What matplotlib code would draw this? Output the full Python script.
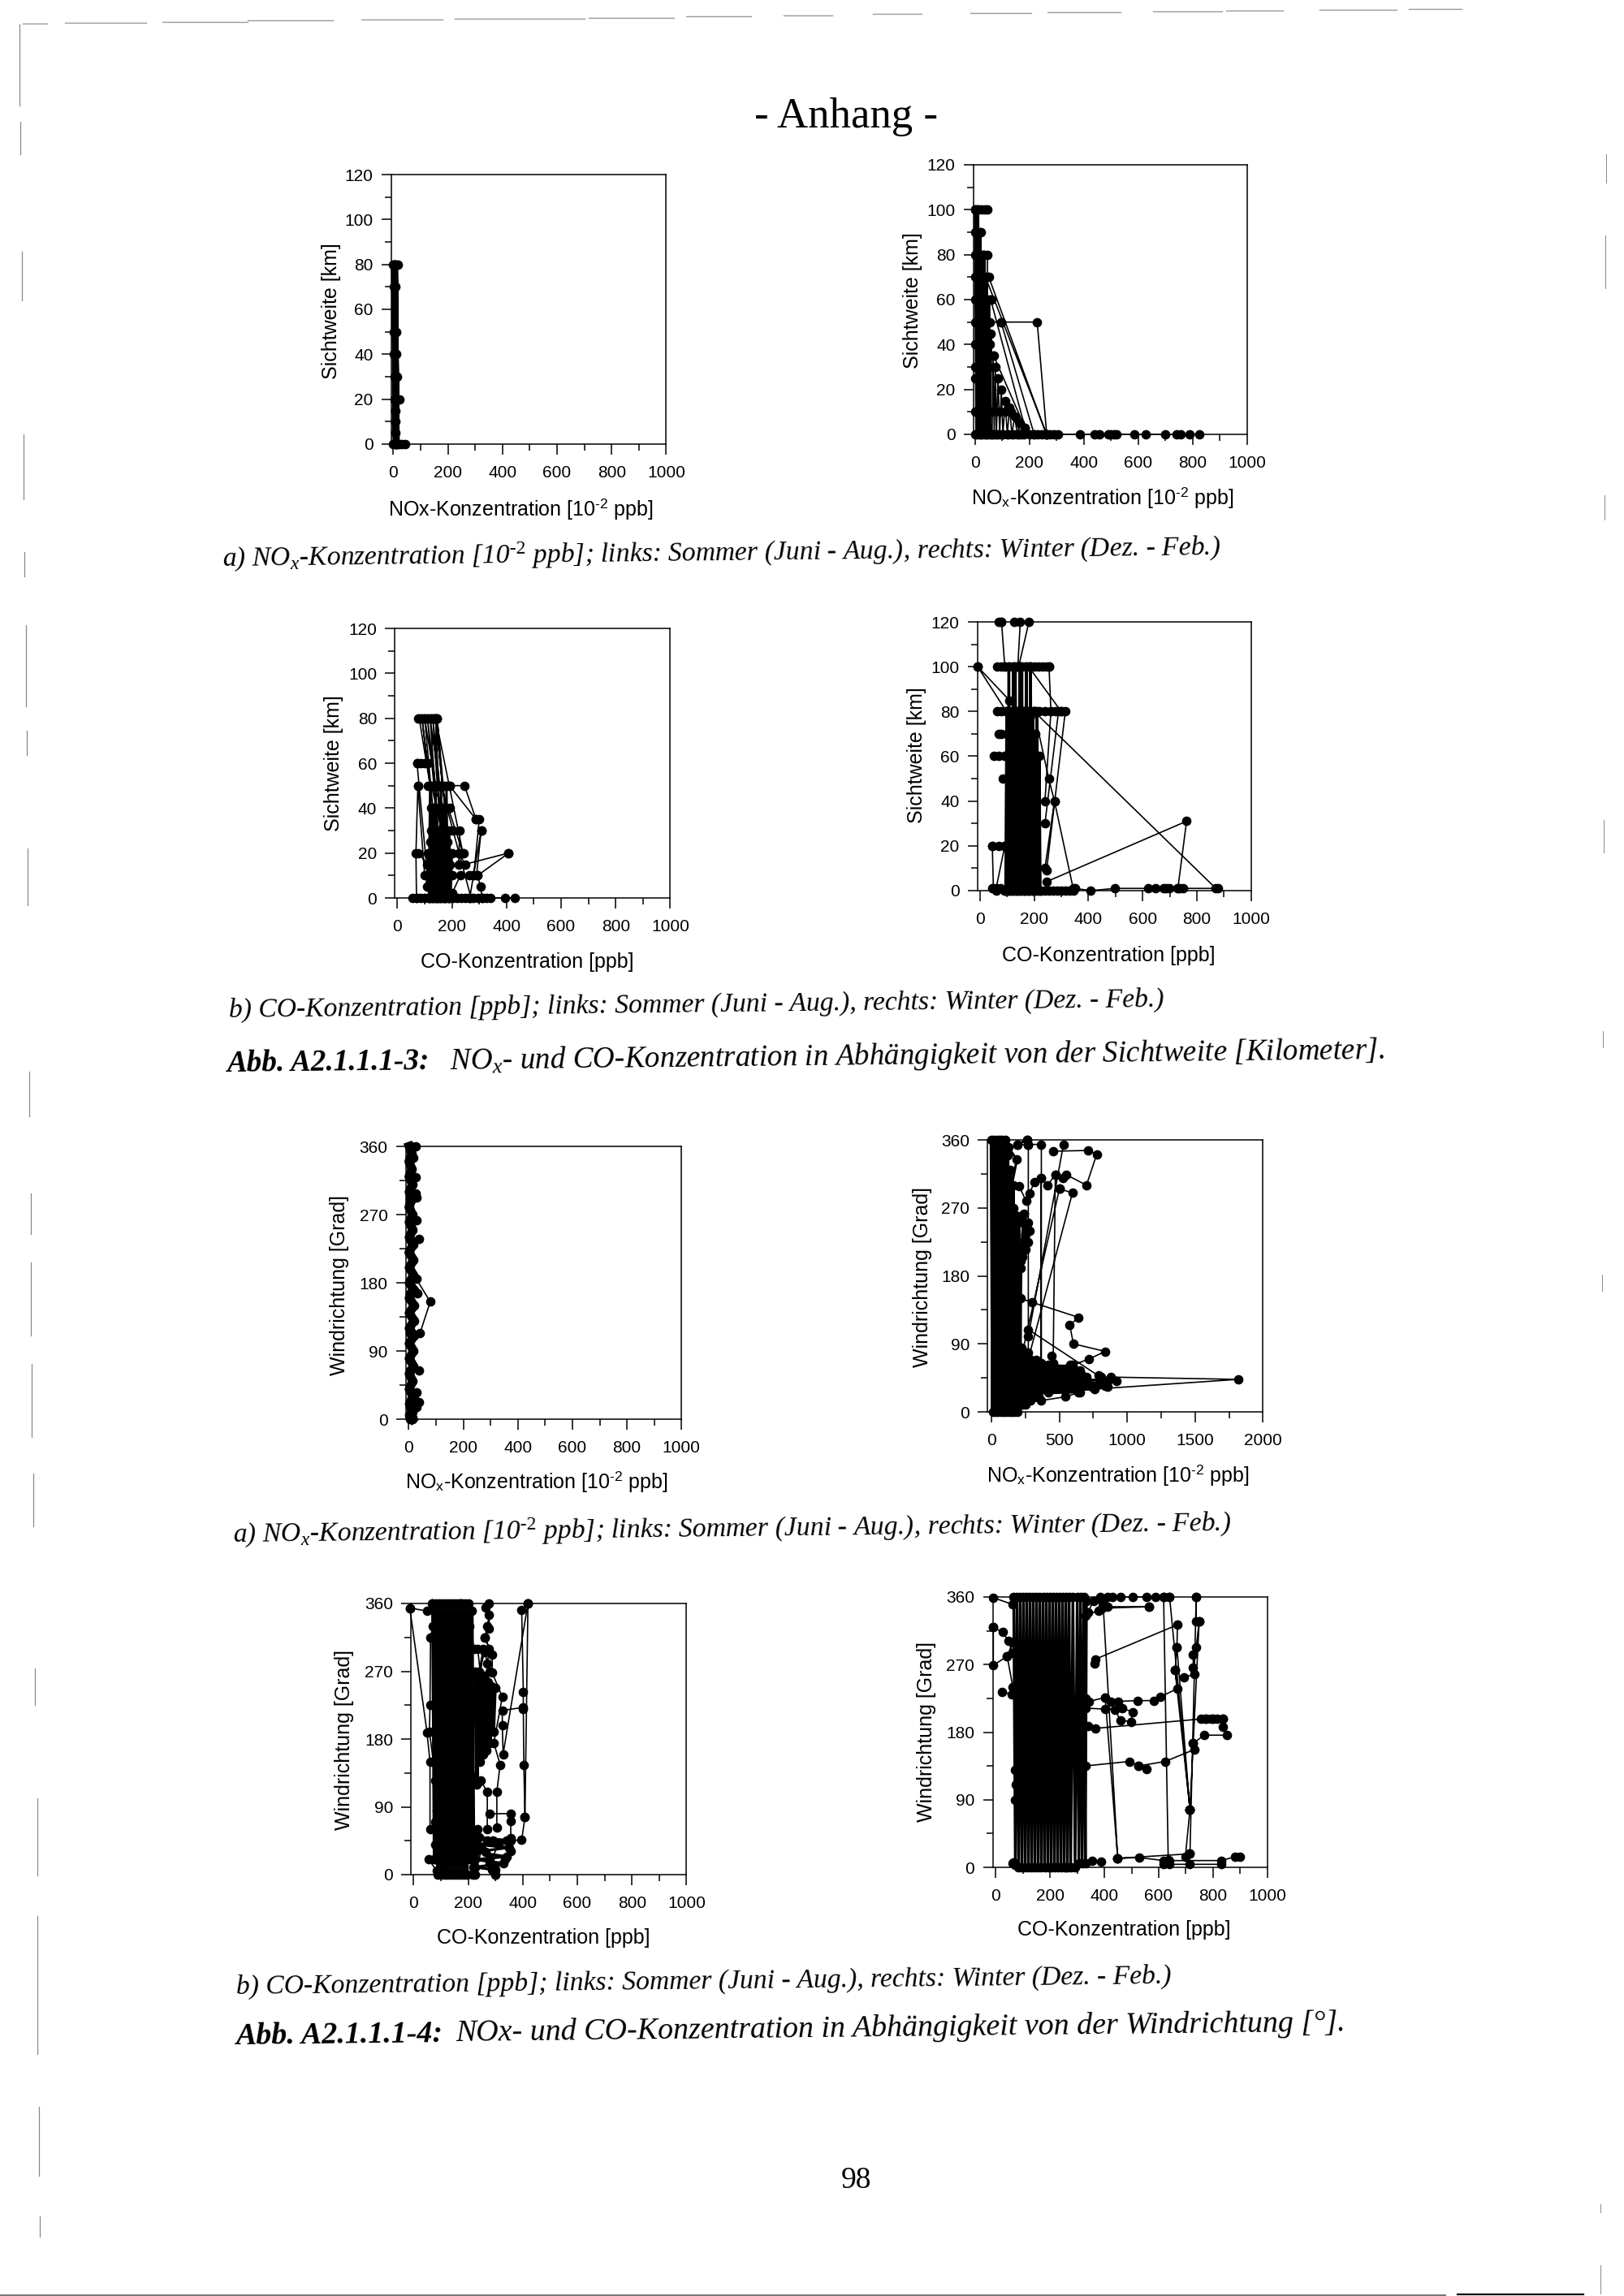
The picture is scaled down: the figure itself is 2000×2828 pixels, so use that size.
"""Scanned appendix page: NOx and CO concentration against visibility and wind direction."""
import matplotlib
matplotlib.use("Agg")
import matplotlib.pyplot as plt

W, H = 2000, 2828
nan = float("nan")

plt.rcParams["font.family"] = ["Liberation Sans", "DejaVu Sans"]
plt.rcParams["mathtext.fontset"] = "custom"
plt.rcParams["mathtext.it"] = "Liberation Serif:italic"
plt.rcParams["mathtext.rm"] = "Liberation Serif"
plt.rcParams["mathtext.bf"] = "Liberation Serif:italic:bold"
plt.rcParams["mathtext.sf"] = "Liberation Sans"
plt.rcParams["mathtext.default"] = "it"

VIS_TICKS = [0, 20, 40, 60, 80, 100, 120]
VIS_MINOR = [10, 30, 50, 70, 90, 110]
DIR_TICKS = [0, 90, 180, 270, 360]
DIR_MINOR = [45, 135, 225, 315]
CONC_TICKS = [0, 200, 400, 600, 800, 1000]
CONC_MINOR = [100, 300, 500, 700, 900]
WIDE_TICKS = [0, 500, 1000, 1500, 2000]
WIDE_MINOR = [250, 750, 1250, 1750]

# a) NOx / visibility, summer
p1_core_x = [3, 10, 5, 12, 4, 11, 6, 9]
p1_core_y = [80, 0, 80, 0, 80, 0, 80, 0]
p1_x = [0, 10, 18, nan, 3, 8, nan, 2, 12, nan, 3, 12, nan, 5, 14, nan, 5, 22, nan, 9, nan, 9, nan, 9, nan, 0, 8, 16, 24, 32, 42]
p1_y = [80, 80, 80, nan, 70, 70, nan, 50, 50, nan, 40, 40, nan, 30, 30, nan, 20, 20, nan, 15, nan, 10, nan, 5, nan, 0, 0, 0, 0, 0, 0]

# a) NOx / visibility, winter
p2_core_x = [0, 5, 10, 14, 18, 22, 26, 30, 34, 38, 42, 46, 50, 54, 58]
p2_core_y = [100, 0, 100, 0, 90, 0, 80, 0, 80, 0, 70, 0, 60, 0, 45]
p2_hatch_x = [62, 66, 70, 74, 78, 84, 90, 96, 102, 110, 118, 126, 135, 145, 155, 165]
p2_hatch_y = [0, 35, 0, 30, 0, 25, 0, 20, 0, 15, 0, 12, 0, 8, 0, 5]
p2_x = [0, 12, 24, 36, 45, nan, 0, 10, 20, nan, 0, 15, 30, 45, 45, nan, 0, 15, 30, 50, 262, nan, 0, 20, 40, 60, nan, 12, 263, nan,
        57, 183, nan, 68, 183, nan, 0, 20, 40, 55, 95, 228, 263, nan, 95, 217, nan, 0, 30, 60, 90, 110, 130, 170, nan,
        0, 20, 40, 55, nan, 0, 30, 50, nan, 0, 25, nan,
        0, 20, 40, 60, 80, 100, 120, 140, 160, 180, 200, 215, 230, 245, 260, 275, 290, 305, 385, 440, 458, 490, 500, 510, 520,
        585, 628, 700, 740, 755, 790, 825]
p2_y = [100, 100, 100, 100, 100, nan, 90, 90, 90, nan, 80, 80, 80, 80, 70, nan, 70, 70, 70, 70, 0, nan, 60, 60, 60, 60, nan, 78, 0, nan,
        60, 3, nan, 35, 3, nan, 50, 50, 50, 50, 50, 50, 0, nan, 50, 0, nan, 10, 10, 10, 10, 10, 10, 0, nan,
        40, 40, 40, 40, nan, 30, 30, 30, nan, 25, 25, nan,
        0, 0, 0, 0, 0, 0, 0, 0, 0, 0, 0, 0, 0, 0, 0, 0, 0, 0, 0, 0, 0, 0, 0, 0, 0,
        0, 0, 0, 0, 0, 0, 0]

# b) CO / visibility, summer
p3_core_x = [115, 120, 125, 130, 135, 140, 145, 150, 155, 160, 165, 170, 175, 180, 185, 190, 195, 200]
p3_core_y = [0, 50, 0, 40, 0, 50, 0, 30, 0, 50, 0, 40, 0, 50, 0, 30, 0, 20]
p3_low_x = [108, 113, 118, 123, 128, 133, 138, 143, 148, 153, 158, 163, 168, 173, 178, 183, 188, 193]
p3_low_y = [5, 20, 0, 25, 0, 22, 0, 25, 0, 22, 0, 25, 0, 22, 0, 25, 0, 15]
p3_hatch_x = [80, 120, 90, 130, 100, 140, 110, 150, 120, 155, 130, 160, 140, 165, 146, 175, 125, 200, 140, 240, 160, 270]
p3_hatch_y = [80, 50, 80, 40, 80, 50, 80, 30, 80, 50, 80, 25, 80, 50, 80, 40, 50, 10, 80, 20, 50, 0]
p3_x = [77, 88, 100, 112, 124, 136, 146, 140, nan, 72, 85, 100, 112, nan, 72, 110, nan, 75, 68, 70, nan, 75, 100, nan, 77, 110, nan,
        112, 130, 150, 170, 191, 246, 288, 300, 280, nan, 191, 288, nan, 228, 225, nan, 307, 265, nan, 307, 290, nan,
        408, 248, 225, 243, nan, 408, 294, 305, 310, nan, 231, 200, nan, 265, 280, 294, nan,
        123, 140, 160, 191, nan, 123, 145, 170, 203, nan, 120, nan, 125, 150, 175, 195, nan,
        55, 70, 85, 100, 115, 130, 145, 160, 175, 190, 205, 220, 235, 250, 265, 280, 295, 310, 325, 340, 396, 430]
p3_y = [80, 80, 80, 80, 80, 80, 80, 70, nan, 60, 60, 60, 60, nan, 60, 10, nan, 50, 20, 0, nan, 50, 10, nan, 20, 15, nan,
        50, 50, 50, 50, 50, 50, 35, 35, 10, nan, 50, 35, nan, 30, 15, nan, 30, 0, nan, 30, 10, nan,
        20, 15, 20, 20, nan, 20, 10, 5, 0, nan, 10, 2, nan, 10, 10, 10, nan,
        40, 40, 40, 40, nan, 30, 30, 30, 30, nan, 25, nan, 20, 20, 20, 20, nan,
        0, 0, 0, 0, 0, 0, 0, 0, 0, 0, 0, 0, 0, 0, 0, 0, 0, 0, 0, 0, 0, 0]

# b) CO / visibility, winter
p4_core_x = [95, 99, 103, 107, 111, 115, 119, 123, 127, 131, 135, 139, 143, 147, 151, 155, 159, 163, 167, 171, 175, 179, 183, 187,
             191, 195, 199, 203, 207, 211, 215, 219, 223]
p4_core_y = [0, 80, 0, 100, 0, 80, 0, 100, 0, 100, 0, 80, 0, 100, 0, 100, 0, 80, 0, 100, 0, 80, 0, 100, 0, 80, 0, 70, 0, 80, 0, 60, 0]
p4_x = [69, 80, nan, 128, 149, 140, nan, 181, 143, nan, 80, 92, nan, -8, 109, nan, -8, 98, nan,
        65, 80, 95, 110, 125, 140, 155, 170, 185, 200, 215, 230, 245, 255, nan, 255, 262, 240, nan,
        63, 80, 100, 120, 140, 160, 180, 200, 220, 240, 260, 280, 300, 315, 246, nan, 290, 240, nan, 200, 870, nan,
        180, 300, nan, 69, 80, 100, nan, 52, 69, 90, nan, 84, 100, nan, 200, 254, 275, 344, nan, 275, 240, nan,
        46, 69, 92, nan, 46, 50, nan, 92, 60, nan, 246, 762, 730, nan,
        45, 60, 75, 90, 105, 120, 135, 150, 165, 180, 195, 210, 225, 240, 255, 270, 285, 300, 315, 330, 345, 350, 409, 498, 619, 647,
        676, 687, 699, 727, 738, 750, 879]
p4_y = [120, 120, nan, 120, 120, 100, nan, 120, 100, nan, 120, 100, nan, 100, 85, nan, 100, 80, nan,
        100, 100, 100, 100, 100, 100, 100, 100, 100, 100, 100, 100, 100, 100, nan, 100, 80, 40, nan,
        80, 80, 80, 80, 80, 80, 80, 80, 80, 80, 80, 80, 80, 80, 9, nan, 80, 30, nan, 80, 1, nan,
        100, 80, nan, 70, 70, 70, nan, 60, 60, 60, nan, 50, 50, nan, 80, 50, 40, 1, nan, 40, 10, nan,
        20, 20, 20, nan, 20, 1, nan, 20, 1, nan, 4, 31, 1, nan,
        1, 0, 1, 0, 0, 0, 0, 0, 0, 0, 0, 1, 0, 0, 0, 0, 0, 0, 0, 0, 0, 1, 0, 1, 1, 1,
        1, 1, 1, 1, 1, 1, 1]

# a) NOx / wind direction, summer
p5_core_x = [2, 12, 1, 12, 1, 14, 2, 12, 1, 14, 2, 15, 2, 16, 1, 18, 2, 18, 2, 20, 2, 20, 2, 20, 2, 20, 2, 18, 2, 18, 2, 15, 2, 15, 3, 14, 3, 14]
p5_core_y = [360, 350, 340, 330, 320, 310, 300, 290, 280, 270, 260, 250, 240, 230, 220, 210, 200, 190, 180, 170, 160, 150, 140, 130, 120,
             110, 100, 90, 80, 70, 60, 50, 40, 30, 20, 10, 5, 0]
p5_x = [25, 12, nan, 16, 5, nan, 25, 5, nan, 25, 30, 5, nan, 30, 5, nan, 39, 5, nan, 33, 5, nan, 28, 79, 42, 5, nan, 39, 5, nan, 30, 39, 30, 5, nan, 5, 15]
p5_y = [360, 360, nan, 345, 345, nan, 319, 319, nan, 298, 293, 290, nan, 263, 263, nan, 238, 238, nan, 166, 166, nan, 185, 155, 114, 114, nan, 64, 64, nan, 35, 23, 16, 16, nan, 0, 2]

# a) NOx / wind direction, winter
p6_core_x = [0, 10, 20, 30, 40, 50, 60, 70, 80, 90, 100, 110, 120, 130, 140, 150, 160, 170, 180, 190, 200, 210, 215]
p6_core_y = [360, 0, 360, 0, 360, 0, 360, 0, 360, 0, 360, 0, 340, 0, 320, 0, 300, 0, 260, 0, 250, 10, 200]
p6_low_x = [220, 230, 240, 250, 260, 270, 280, 290, 300, 310, 320, 330, 340, 350, 360]
p6_low_y = [85, 10, 80, 10, 75, 15, 70, 15, 65, 20, 60, 20, 58, 20, 55]
p6_blob_x = [200, 640, 210, 760, 220, 840, 230, 800, 240, 860, 250, 700, 260, 660, 280, 620, 320, 560, 360, 600, 420]
p6_blob_y = [24, 26, 28, 30, 32, 34, 36, 38, 40, 42, 44, 46, 48, 50, 52, 54, 56, 58, 60, 60, 62]
p6_bump_x = [160, 200, 230, 260, 284, 270, 250, 230, 215, 210, 240, 215, 270, 220, 250, 218, nan, 192, 261, 272, nan, 124, 188, 150]
p6_bump_y = [270, 258, 260, 245, 240, 225, 215, 205, 190, 150, 262, 205, 250, 215, 235, 220, nan, 354, 360, 354, nan, 350, 334, 300]
p6_x = [192, 272, 368, 368, nan, 261, 272, 272, nan, 531, 272, nan, 455, 712, 776, 700, 551, 524, 471, 455, nan, 471, 414, 364, 364, nan,
        364, 318, 279, 256, 204, nan, 501, 597, 272, nan, 501, 230, nan, 215, 300, 643, 577, 604, 840, 719, 600, nan,
        444, 444, nan, 272, 787, nan, 879, 1817, 421, nan, 920, 810, 741, 650, 547, 368, 250, nan, 593, 650, 581, 389, 330, nan, 856, 741]
p6_y = [354, 354, 354, 64, nan, 360, 354, 78, nan, 354, 100, nan, 345, 346, 341, 300, 314, 310, 314, 64, nan, 314, 300, 310, 64, nan,
        310, 304, 289, 279, 299, nan, 295, 290, 70, nan, 295, 80, nan, 150, 145, 125, 115, 90, 80, 70, 62, nan,
        74, 50, nan, 109, 48, nan, 46, 43, 26, nan, 41, 46, 33, 26, 20, 15, 12, nan, 57, 55, 62, 60, 69, nan, 33, 33]

# b) CO / wind direction, summer
p7_core_x = [70, 76, 82, 88, 94, 100, 106, 112, 118, 124, 130, 136, 142, 148, 154, 160, 166, 172, 178, 184, 190, 196, 202, 208, 214, 220]
p7_core_y = [360, 20, 360, 0, 360, 0, 360, 0, 360, 0, 360, 0, 360, 0, 360, 0, 360, 0, 360, 0, 360, 0, 360, 20, 350, 40]
p7_side_x = [226, 232, 238, 244, 250, 256, 262, 268, 274, 280, 286, 292, 298]
p7_side_y = [270, 120, 265, 150, 265, 160, 260, 165, 255, 175, 250, 190, 248]
p7_low_x = [225, 356, 230, 350, 225, 340, 225, 330, 225, 300]
p7_low_y = [50, 45, 40, 36, 30, 24, 20, 15, 10, 6]
p7_x = [-14, 49, 60, 60, nan, -14, 48, nan, 55, 85, nan, 66, 70, 62, 60, 58, 72, 80, 85, 78, 80, 75, nan,
        419, 396, 402, 402, 404, 408, 396, 340, nan, 419, 408, nan, 419, 328, 325, 325, 402, nan, 277, 277, 260, 288, 288, 325, 294, 317, 305, 305, nan,
        356, 280, nan, 356, 356, 356, 334, 288, 300, nan, 265, 277, 270, 262, 277, 270, nan, 237, 245, 270, 270, nan, 170, 204, 222, nan,
        270, 290, 310, 280, nan, 265, 280, 295, 300, nan, 215, 225, 205, 225, 205, 225, 215, 235, 220, 240, 225, 250, nan, 235, 245, 255, 240, 260, 280]
p7_y = [354, 189, 150, 60, nan, 354, 350, nan, 20, 5, nan, 360, 330, 315, 225, 190, 150, 125, 85, 70, 40, 20, nan,
        360, 351, 243, 220, 145, 76, 46, 45, nan, 360, 76, nan, 360, 160, 198, 218, 222, nan, 360, 327, 315, 292, 268, 236, 175, 146, 110, 62, nan,
        81, 81, nan, 71, 49, 31, 20, 6, 0, nan, 355, 345, 330, 315, 300, 280, nan, 123, 125, 110, 60, nan, 360, 330, 300, nan,
        45, 45, 40, 15, nan, 30, 20, 12, 0, nan, 130, 40, 120, 30, 100, 50, 0, 60, 10, 50, 0, 35, nan, 300, 265, 300, 270, 295, 270]

# b) CO / wind direction, winter
p8_core_x = [66, 72, 78, 84, 90, 96, 102, 108, 114, 120, 126, 132, 138, 144, 150, 156, 162, 168, 174, 180, 186, 192, 198, 204,
             210, 216, 222, 228, 234, 240, 246, 252, 258, 264, 270, 276, 284, 292, 300, 306, 312, 318, 324, 330, 334]
p8_core_y = [360, 5, 360, 0, 360, 0, 360, 0, 360, 0, 360, 0, 360, 0, 360, 0, 360, 0, 360, 0, 360, 0, 360, 0,
             360, 0, 360, 0, 360, 0, 360, 0, 360, 0, 360, 0, 360, 0, 360, 5, 360, 5, 360, 5, 355]
p8_x = [340, 360, 385, 412, 429, 458, 503, 555, 587, 618, 640, nan, 618, 635, nan, 640, 715, nan, 738, 715, nan, 738, 738, nan,
        563, 412, 378, 330, nan, 563, 390, nan, 395, 449, nan, -9, 63, nan, -9, -9, 42, 63, nan, -9, 25, 46, 63, nan, 42, 63, nan, 23, 60, nan,
        364, 366, 669, 667, 660, 669, 606, 581, 521, 452, 423, 403, 343, 330, nan, 667, 715, nan, 660, 715, nan,
        749, 738, 727, 727, 732, 692, nan, 749, 727, 715, nan,
        403, 464, 504, 498, 458, 440, 330, nan, 340, 366, 770, 800, 835, 835, 852, 767, 727, 732, 624, 526, 492, 330, nan, 526, 555, nan,
        755, 775, 795, 815, 835, nan, 715, 698, 715, 449, nan, 403, 449, 529, 618, 640, 830, 881, 898, nan, 618, 640, 715, 830, nan,
        355, 389, nan, 63, 70, nan, 260, nan, 70, 75, 70, nan, 66, 70]
p8_y = [340, 355, 360, 360, 360, 360, 360, 360, 360, 360, 360, nan, 360, 10, nan, 360, 77, nan, 360, 18, nan, 360, 328, nan,
        347, 347, 342, 335, nan, 347, 345, nan, 352, 12, nan, 359, 350, nan, 320, 269, 281, 300, nan, 320, 313, 302, 285, nan, 281, 240, nan, 234, 230, nan,
        271, 277, 323, 293, 263, 238, 227, 222, 222, 221, 221, 226, 221, 225, nan, 293, 77, nan, 263, 77, nan,
        328, 293, 283, 266, 257, 253, nan, 328, 165, 77, nan,
        211, 212, 207, 194, 196, 210, 212, nan, 188, 185, 198, 198, 198, 187, 176, 176, 165, 157, 141, 135, 141, 135, nan, 135, 131, nan,
        198, 198, 198, 198, 198, nan, 77, 14, 18, 12, nan, 226, 12, 13, 9, 9, 9, 14, 14, nan, 4, 4, 4, 4, nan,
        9, 8, nan, 5, 3, nan, 0, nan, 130, 110, 90, nan, 7, 5]

# page furniture left by the scan (outer page edge)
edge_left_x = [24, 24.5, 26.5, 29, 30, 32, 32.5, 33.5, 36, 37.5, 38, 39, 41, 43, 45.5, 46, 48, 49]
edge_left_top = [30, 150, 310, 535, 680, 770, 900, 1045, 1320, 1470, 1555, 1680, 1815, 2055, 2215, 2360, 2595, 2730]
edge_left_bottom = [130, 190, 370, 615, 710, 870, 930, 1115, 1375, 1520, 1645, 1770, 1880, 2100, 2310, 2530, 2680, 2755]
edge_top_start = [28, 80, 200, 305, 445, 560, 725, 845, 965, 1075, 1195, 1290, 1420, 1510, 1625, 1735]
edge_top_end = [58, 180, 305, 410, 545, 720, 830, 925, 1025, 1135, 1270, 1380, 1505, 1580, 1720, 1800]
edge_top_y = [29, 28, 26.5, 25, 24, 23, 21.5, 20, 18.5, 17, 15.5, 14.5, 13.5, 13, 12, 11]
edge_right_x = [1978, 1977, 1976, 1975, 1974, 1973, 1971, 1971]
edge_right_top = [190, 290, 610, 1010, 1270, 1570, 2715, 2790]
edge_right_bottom = [225, 355, 640, 1050, 1290, 1590, 2725, 2825]

# (x zero, x end, axis left edge, y zero, y end)
PANEL_BOX = [
    (484.4, 820.4, 481.7, 547, 215),
    (1201, 1535.8, 1198.7, 535, 203),
    (489.4, 825.4, 486.3, 1106, 774),
    (1206.7, 1540.8, 1203.7, 1097, 766),
    (503.3, 839.3, 499.8, 1748, 1412),
    (1220.9, 1555.4, 1216.3, 1739, 1404),
    (509.4, 845.4, 506.3, 2309, 1975),
    (1226.3, 1560.8, 1222.5, 2300, 1967),
]
NOX_LABEL = "NO$_{\\mathsf{x}}$-Konzentration [10$^{\\mathsf{\u20102}}$ ppb]"
NOX_PLAIN = "NOx-Konzentration [10$^{\\mathsf{\u20102}}$ ppb]"
CO_LABEL = "CO-Konzentration [ppb]"
VIS_LABEL = "Sichtweite [km]"
DIR_LABEL = "Windrichtung [Grad]"
# x label position, y label position
LABEL_POS = [
    ((641, 627), (408, 383)), ((1358, 613), (1124, 370)),
    ((649, 1185), (411, 940)), ((1365, 1177), (1129, 930)),
    ((661, 1825), (418, 1583)), ((1377, 1817), (1136, 1573)),
    ((669, 2387), (424, 2143)), ((1384, 2377), (1141, 2133)),
]

fig = plt.figure(figsize=(W / 100, H / 100), dpi=100, facecolor="white")
page = fig.add_axes([0, 0, 1, 1], zorder=0)
page.set_xlim(0, W)
page.set_ylim(H, 0)
page.axis("off")


def draw_panel(i, series, xmax, xticks, xminor, yticks, yminor, xlabel, ylabel):
    x0, x1, xl, y0, yt = PANEL_BOX[i]
    ax = fig.add_axes([xl / W, 1 - y0 / H, (x1 - xl) / W, (y0 - yt) / H], zorder=1)
    ax.patch.set_alpha(0)
    ax.set_xlim((xl - x0) / (x1 - x0) * xmax, xmax)
    ax.set_ylim(yticks[0], yticks[-1])
    for x, y, lw in series:
        ax.plot(x, y, "-o", color="black", lw=lw, ms=8.4, mew=0, clip_on=False)
    ax.set_xticks(xticks)
    ax.set_xticks(xminor, minor=True)
    ax.set_yticks(yticks)
    ax.set_yticks(yminor, minor=True)
    ax.tick_params(which="major", length=9, width=1.1, labelsize=15)
    ax.tick_params(which="minor", length=5.5, width=1.1)
    ax.tick_params(axis="x", which="major", pad=10)
    ax.tick_params(axis="y", which="major", pad=7)
    for s in ax.spines.values():
        s.set_linewidth(1.1)
    (xx, xy), (yx, yy) = LABEL_POS[i]
    page.text(xx, xy, xlabel, ha="center", va="center", fontsize=18)
    page.text(yx, yy, ylabel, ha="center", va="center", rotation=90, fontsize=18)


THIN = 1.2
THICK = 2.4
draw_panel(0, [(p1_core_x, p1_core_y, 5.5), (p1_x, p1_y, THIN)], 1000, CONC_TICKS, CONC_MINOR, VIS_TICKS, VIS_MINOR, NOX_PLAIN, VIS_LABEL)
draw_panel(1, [(p2_core_x, p2_core_y, THICK), (p2_hatch_x, p2_hatch_y, THIN), (p2_x, p2_y, THIN)], 1000, CONC_TICKS, CONC_MINOR, VIS_TICKS, VIS_MINOR, NOX_LABEL, VIS_LABEL)
draw_panel(2, [(p3_core_x, p3_core_y, 2.0), (p3_low_x, p3_low_y, THICK), (p3_hatch_x, p3_hatch_y, THIN), (p3_x, p3_y, THIN)], 1000, CONC_TICKS, CONC_MINOR, VIS_TICKS, VIS_MINOR, CO_LABEL, VIS_LABEL)
draw_panel(3, [(p4_core_x, p4_core_y, THICK), (p4_x, p4_y, THIN)], 1000, CONC_TICKS, CONC_MINOR, VIS_TICKS, VIS_MINOR, CO_LABEL, VIS_LABEL)
draw_panel(4, [(p5_core_x, p5_core_y, 8.0), (p5_x, p5_y, THIN)], 1000, CONC_TICKS, CONC_MINOR, DIR_TICKS, DIR_MINOR, NOX_LABEL, DIR_LABEL)
draw_panel(5, [(p6_core_x, p6_core_y, 3.0), (p6_low_x, p6_low_y, 2.8), (p6_blob_x, p6_blob_y, 2.2), (p6_bump_x, p6_bump_y, 2.2), (p6_x, p6_y, THIN)],
           2000, WIDE_TICKS, WIDE_MINOR, DIR_TICKS, DIR_MINOR, NOX_LABEL, DIR_LABEL)
draw_panel(6, [(p7_core_x, p7_core_y, 2.8), (p7_side_x, p7_side_y, 3.2), (p7_low_x, p7_low_y, 2.4), (p7_x, p7_y, THIN)],
           1000, CONC_TICKS, CONC_MINOR, DIR_TICKS, DIR_MINOR, CO_LABEL, DIR_LABEL)
draw_panel(7, [(p8_core_x, p8_core_y, THICK), (p8_x, p8_y, THIN)], 1000, CONC_TICKS, CONC_MINOR, DIR_TICKS, DIR_MINOR, CO_LABEL, DIR_LABEL)

# page text, tilted a little like the scan
TILT = 0.65
serif = ["Liberation Serif", "DejaVu Serif"]
cap = dict(family=serif, style="italic", fontsize=24.2, ha="left", va="center", rotation=TILT, rotation_mode="anchor")
abb = dict(cap, fontsize=26.7)
abb2 = dict(cap, fontsize=27.4)
page.text(1042, 144, "- Anhang -", family=serif, fontsize=38, ha="center", va="center")
page.text(1054, 2686, "98", family=serif, fontsize=27, ha="center", va="center")
page.text(274, 688, "a) NO$_x$-Konzentration [10$^{\u20102}$ ppb]; links: Sommer (Juni - Aug.), rechts: Winter (Dez. - Feb.)", **cap)
page.text(282, 1244, "b) CO-Konzentration [ppb]; links: Sommer (Juni - Aug.), rechts: Winter (Dez. - Feb.)", **cap)
page.text(280, 1311, "Abb. A2.1.1.1-3:", weight="bold", **abb)
page.text(554, 1308, r"NO$_x$- und CO-Konzentration in Abhängigkeit von der Sichtweite [Kilometer].", **abb)
page.text(287, 1890, "a) NO$_x$-Konzentration [10$^{\u20102}$ ppb]; links: Sommer (Juni - Aug.), rechts: Winter (Dez. - Feb.)", **cap)
page.text(291, 2447, "b) CO-Konzentration [ppb]; links: Sommer (Juni - Aug.), rechts: Winter (Dez. - Feb.)", **cap)
page.text(291, 2509, "Abb. A2.1.1.1-4:", weight="bold", **abb2)
page.text(561, 2505, "NOx- und CO-Konzentration in Abhängigkeit von der Windrichtung [°].", **abb2)

# scan edges
for x, a, b in zip(edge_left_x, edge_left_top, edge_left_bottom):
    page.plot([x, x], [a, b], color="#888888", lw=0.9)
for x, a, b in zip(edge_right_x, edge_right_top, edge_right_bottom):
    page.plot([x, x], [a, b], color="#888888", lw=0.7)
for a, b, y in zip(edge_top_start, edge_top_end, edge_top_y):
    page.plot([a, b], [y, y], color="#999999", lw=1.0)
page.plot([0, 1780], [2826.5, 2826.5], color="#777777", lw=1.4)
page.plot([1795, 1950], [2826, 2826], color="black", lw=1.6)

fig.savefig("out.png", dpi=100, facecolor="white")
